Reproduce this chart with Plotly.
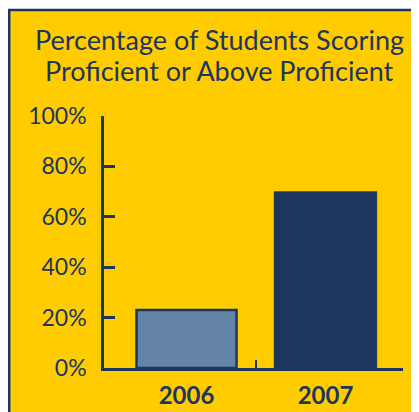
import plotly.graph_objects as go

years = ["2006", "2007"]
x_pos = [0, 1]
percent = [23, 70]
y_ticks = [0, 20, 40, 60, 80, 100]
y_tick_labels = ["0%", "20%", "40%", "60%", "80%", "100%"]
divider_ticks = [0.5]
title_lines = ["Percentage of Students Scoring", "Proficient or Above Proficient"]

NAVY = "#1C365F"
SLATE = "#6384A7"
YELLOW = "#FFCC00"
FONT = "Lato"

W, H = 419, 412
L, R, T, B = 96, 24, 108, 52
pw, ph = W - L - R, H - T - B

fig = go.Figure()
fig.add_trace(go.Bar(
    x=x_pos, y=percent, width=[0.72, 0.74],
    marker=dict(color=[SLATE, NAVY], line=dict(color=NAVY, width=[2.5, 0.5])),
    hoverinfo="skip", showlegend=False,
))
# invisible trace that carries the divider-tick axis
fig.add_trace(go.Scatter(x=divider_ticks, y=[0], xaxis="x2", mode="markers",
                         marker=dict(opacity=0), showlegend=False, hoverinfo="skip"))

xr = [-0.594, 1.558]
title_mid_px = [31, 63]  # vertical centre of each title line, px from top
annotations = [
    dict(text=t, xref="paper", yref="paper", x=(211 - L) / pw, xanchor="center",
         y=(H - B - yp) / ph, yanchor="middle", showarrow=False,
         font=dict(family=FONT, size=27, color=NAVY))
    for t, yp in zip(title_lines, title_mid_px)
]

fig.update_layout(
    width=W, height=H,
    margin=dict(l=L, r=R, t=T, b=B, pad=0, autoexpand=False),
    paper_bgcolor="white", plot_bgcolor="rgba(0,0,0,0)",
    font=dict(family=FONT, color=NAVY),
    annotations=annotations,
    xaxis=dict(
        range=xr, tickvals=x_pos, ticktext=years, ticks="", showgrid=False,
        zeroline=False, showline=True, linecolor=NAVY, linewidth=2.5,
        tickfont=dict(family=FONT, size=24, color=NAVY, weight="bold"),
        ticklabelstandoff=4, automargin=False,
    ),
    xaxis2=dict(
        range=xr, overlaying="x", side="bottom", tickvals=divider_ticks,
        showticklabels=False, ticks="inside", ticklen=8, tickwidth=2,
        tickcolor=NAVY, showgrid=False, zeroline=False, showline=False,
        automargin=False,
    ),
    yaxis=dict(
        range=[0, 100], tickvals=y_ticks, ticktext=y_tick_labels,
        ticks="inside", ticklen=11, tickwidth=2.5, tickcolor=NAVY,
        showgrid=False, zeroline=False, showline=True, linecolor=NAVY, linewidth=2.5,
        tickfont=dict(family=FONT, size=23, color=NAVY),
        ticklabelstandoff=10, automargin=False,
    ),
    shapes=[dict(
        type="rect", xref="paper", yref="paper", layer="below",
        x0=(1.25 - L) / pw, x1=(W + 10 - L) / pw,
        y0=-(B + 10) / ph, y1=(H - 2 - B) / ph,
        fillcolor=YELLOW, line=dict(color=NAVY, width=2.5),
    )],
)

fig.write_html("out.html")
